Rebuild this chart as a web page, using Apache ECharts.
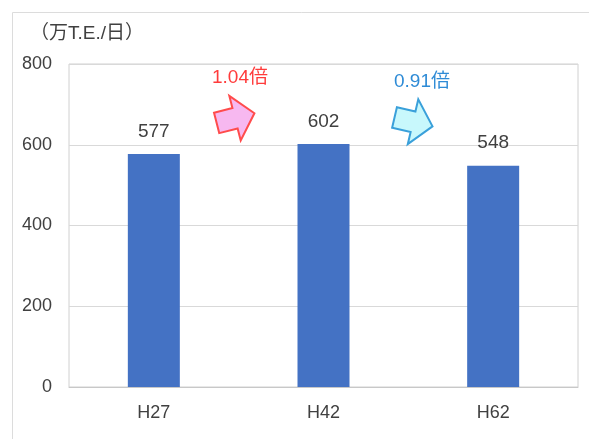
<!DOCTYPE html>
<html>
<head>
<meta charset="utf-8">
<script src="https://cdn.jsdelivr.net/npm/echarts@6/dist/echarts.min.js"></script>
<style>
html, body { margin: 0; padding: 0; background: #fff; }
#chart { width: 589px; height: 439px; }
</style>
</head>
<body>
<div id="chart"></div>
<script>
// data
const categories = ['H27', 'H42', 'H62'];
const values = [577, 602, 548];
const ratioLabels = ['1.04倍', '0.91倍'];
const unitLabel = '（万T.E./日）';

const font = '"Liberation Sans", Arial, "Noto Sans CJK JP", sans-serif';

// block arrow pointing right, centered at origin
function arrowShape(x, y, rot, fill, stroke) {
    return {
        type: 'polygon',
        x: x,
        y: y,
        rotation: rot,
        shape: {
            points: [[-20, -10.5], [-1, -10.5], [-1, -23], [19, 0], [-1, 23], [-1, 10.5], [-20, 10.5]]
        },
        style: { fill: fill, stroke: stroke, lineWidth: 2 },
        z: 10
    };
}

let myChart = echarts.init(document.getElementById('chart'));
let option = {
    animation: false,
    backgroundColor: '#fff',
    grid: {
        left: 69,
        right: 11,
        top: 64,
        bottom: 52,
        show: true,
        borderColor: '#d0d0d0',
        borderWidth: 1
    },
    xAxis: {
        type: 'category',
        data: categories,
        axisLine: { lineStyle: { color: '#c8c8c8' } },
        axisTick: { show: false },
        axisLabel: { color: '#404040', fontSize: 18, fontFamily: font, margin: 17 }
    },
    yAxis: {
        type: 'value',
        min: 0,
        max: 800,
        interval: 200,
        axisLine: { show: false },
        axisTick: { show: false },
        splitLine: { lineStyle: { color: '#d9d9d9' } },
        axisLabel: { color: '#404040', fontSize: 18, fontFamily: font, margin: 17 }
    },
    series: [{
        type: 'bar',
        data: values,
        barWidth: 52,
        itemStyle: { color: '#4472C4' },
        label: {
            show: true,
            position: 'top',
            distance: 13,
            color: '#404040',
            fontSize: 19,
            fontFamily: font
        }
    }],
    graphic: [
        {
            // outer frame, runs off the right and bottom edges
            type: 'rect',
            shape: { x: 12.5, y: 12.5, width: 620, height: 460 },
            style: { fill: 'none', stroke: '#dcdcdc', lineWidth: 1 },
            silent: true
        },
        {
            type: 'text',
            x: 30,
            y: 34,
            style: {
                text: unitLabel, fill: '#404040', fontSize: 19, fontFamily: font,
                verticalAlign: 'middle'
            }
        },
        arrowShape(236, 118, 0.25, '#F7B8F0', '#FF4C4C'),
        arrowShape(414, 122, -0.23, '#C8F8FC', '#3AA0DA'),
        {
            type: 'text',
            x: 240,
            y: 78,
            style: {
                text: ratioLabels[0], fill: '#FF3B3B', fontSize: 19, fontFamily: font,
                align: 'center', verticalAlign: 'middle'
            }
        },
        {
            type: 'text',
            x: 422,
            y: 82,
            style: {
                text: ratioLabels[1], fill: '#2E8BD6', fontSize: 19, fontFamily: font,
                align: 'center', verticalAlign: 'middle'
            }
        }
    ]
};
myChart.setOption(option);
</script>
</body>
</html>
